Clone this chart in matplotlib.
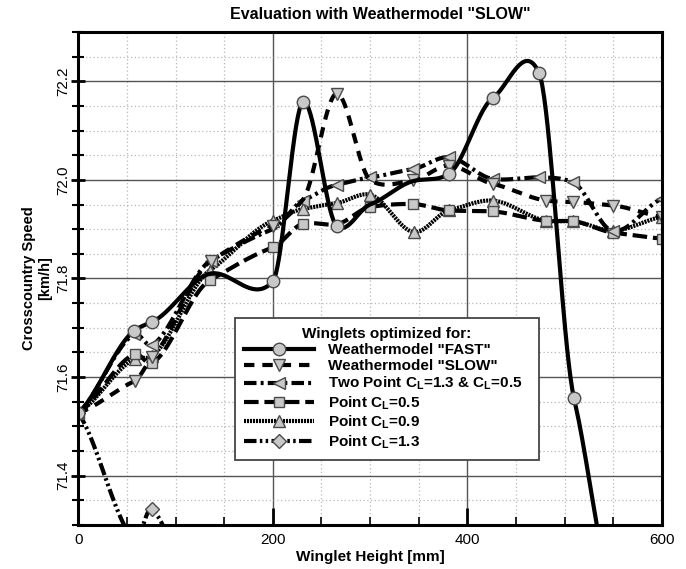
import numpy as np
import matplotlib
matplotlib.use("Agg")
import matplotlib.pyplot as plt
from matplotlib.ticker import MultipleLocator

plt.rcParams['font.family'] = ['Liberation Sans', 'DejaVu Sans']
plt.rcParams['mathtext.fontset'] = 'custom'
plt.rcParams['mathtext.rm'] = 'Liberation Sans'
plt.rcParams['mathtext.bf'] = 'Liberation Sans:bold'
plt.rcParams['mathtext.default'] = 'bf'

# data (winglet height [mm], crosscountry speed [km/h])
x_fast = [0, 57.5, 76, 136, 200, 231, 265.5, 300, 345, 381, 426, 473.6, 509.6, 550, 600]
y_fast = [71.527, 71.694, 71.712, 71.81, 71.794, 72.158, 71.907, 71.95, 71.998, 72.012,
          72.166, 72.217, 71.557, 71.14, 70.62]
hide_fast = [136, 300, 345, 550, 600]   # points with no visible symbol

x_slow = [0, 58, 76, 136, 200, 231, 265.5, 300, 344, 381, 426, 481, 509, 550, 600]
y_slow = [71.527, 71.592, 71.64, 71.835, 71.907, 71.96, 72.175, 72.0, 71.999, 72.029,
          71.992, 71.958, 71.955, 71.948, 71.925]
hide_slow = [231, 300]

x_two = [0, 57.5, 76, 136, 200, 231, 265.5, 300, 344, 381, 426, 474, 508.6, 550, 600]
y_two = [71.527, 71.687, 71.665, 71.836, 71.90, 71.958, 71.990, 72.005, 72.022, 72.046,
         72.002, 72.005, 71.995, 71.896, 71.962]
hide_two = [200]

x_cl05 = [0, 58, 76, 135, 200, 231, 265.5, 300, 344, 381, 426, 481, 509, 550, 600]
y_cl05 = [71.527, 71.647, 71.628, 71.796, 71.863, 71.911, 71.91, 71.945, 71.951, 71.938,
          71.936, 71.917, 71.916, 71.893, 71.881]
hide_cl05 = [265.5]

x_cl09 = [0, 58, 76, 135, 200, 231, 265.5, 300, 345, 381, 426, 481, 509, 550, 600]
y_cl09 = [71.527, 71.637, 71.643, 71.816, 71.917, 71.941, 71.953, 71.970, 71.894, 71.938,
          71.958, 71.917, 71.916, 71.897, 71.925]
hide_cl09 = []

x_cl13 = [0, 58, 76, 136]
y_cl13 = [71.527, 71.27, 71.332, 71.05]
hide_cl13 = []

labels = ['Weathermodel "FAST"', 'Weathermodel "SLOW"',
          'Two Point C$_L$=1.3 & C$_L$=0.5', 'Point C$_L$=0.5',
          'Point C$_L$=0.9', 'Point C$_L$=1.3']


def smooth(x, y, n=40, tension=0.6):
    # cubic hermite curve through the points (like the spline lines of the original)
    x = np.asarray(x, float)
    y = np.asarray(y, float)
    m = np.zeros_like(y)
    m[1:-1] = (y[2:] - y[:-2]) / (x[2:] - x[:-2])
    m[0] = (y[1] - y[0]) / (x[1] - x[0])
    m[-1] = (y[-1] - y[-2]) / (x[-1] - x[-2])
    m *= tension
    t = np.linspace(0, 1, n, endpoint=False)
    h00 = 2 * t**3 - 3 * t**2 + 1
    h10 = t**3 - 2 * t**2 + t
    h01 = -2 * t**3 + 3 * t**2
    h11 = t**3 - t**2
    xs, ys = [], []
    for i in range(len(x) - 1):
        h = x[i + 1] - x[i]
        xs.append(x[i] + t * h)
        ys.append(h00 * y[i] + h10 * h * m[i] + h01 * y[i + 1] + h11 * h * m[i + 1])
    xs.append([x[-1]])
    ys.append([y[-1]])
    return np.concatenate(xs), np.concatenate(ys), n


fig = plt.figure(figsize=(6.86, 5.69), dpi=100)
ax = fig.add_axes([0.114, 0.0773, 0.851, 0.8665])

mk = dict(markerfacecolor='#c8c8c8', markeredgecolor='#4a4a4a', markeredgewidth=1.0)
lw = 3.0

series = [
    (x_cl13, y_cl13, hide_cl13, labels[5], dict(ls=(0, (3, 0.8, 0.6, 0.8, 0.6, 0.8)), marker='D', ms=7)),
    (x_cl09, y_cl09, hide_cl09, labels[4], dict(ls=(0, (0.5, 0.22)), marker='^', ms=8, dash_capstyle='butt')),
    (x_cl05, y_cl05, hide_cl05, labels[3], dict(ls=(0, (3.5, 1.4)), marker='s', ms=7)),
    (x_two, y_two, hide_two, labels[2], dict(ls=(0, (3, 1, 0.7, 1)), marker='<', ms=8)),
    (x_slow, y_slow, hide_slow, labels[1], dict(ls=(0, (2.5, 1.9)), marker='v', ms=8)),
    (x_fast, y_fast, hide_fast, labels[0], dict(ls='-', marker='o', ms=9)),
]

handles = {}
for xv, yv, hide, lab, st in series:
    xs, ys, n = smooth(xv, yv)
    idx = [i * n for i, xx in enumerate(xv) if xx not in hide]
    line, = ax.plot(xs, ys, color='black', lw=lw, markevery=idx, label=lab, **mk, **st)
    handles[lab] = line

ax.set_xlim(0, 600)
ax.set_ylim(71.3, 72.3)

ax.xaxis.set_major_locator(MultipleLocator(200))
ax.xaxis.set_minor_locator(MultipleLocator(50))
ax.yaxis.set_major_locator(MultipleLocator(0.2))
ax.yaxis.set_minor_locator(MultipleLocator(0.05))
ax.grid(which='major', color='#555555', lw=1.0, ls='-')
ax.grid(which='minor', color='#b8b8b8', lw=0.9, ls=(0, (1, 2)))
ax.set_axisbelow(True)

ax.tick_params(axis='y', which='major', direction='inout', length=10, width=2, labelsize=11, pad=1)
ax.tick_params(axis='y', which='minor', direction='inout', length=8, width=1.5)
ax.tick_params(axis='x', which='major', direction='in', length=12, width=2, labelsize=11, pad=6)
ax.tick_params(axis='x', which='minor', direction='in', length=6, width=1.2)
for lbl in ax.get_yticklabels():
    lbl.set_rotation(90)
    lbl.set_va('center')

for sp in ax.spines.values():
    sp.set_linewidth(2.2)

ax.set_xlabel('Winglet Height [mm]', fontsize=11, fontweight='bold', labelpad=2)
ax.set_ylabel('Crosscountry Speed\n[km/h]', fontsize=10.5, fontweight='bold', labelpad=3)
ax.set_title('Evaluation with Weathermodel "SLOW"', fontsize=11.5, fontweight='bold', pad=9, x=0.518)

leg = ax.legend([handles[l] for l in labels], labels,
                title='Winglets optimized for:', loc='upper left',
                bbox_to_anchor=(0.2685, 0.132, 0.5205, 0.288), mode='expand',
                borderaxespad=0, fancybox=False, framealpha=1, edgecolor='#444444',
                prop=dict(weight='bold', size=11), title_fontproperties=dict(weight='bold', size=11),
                handlelength=4.6, handletextpad=0.9, labelspacing=0.13, borderpad=0.6,
                numpoints=1)
leg.get_frame().set_linewidth(1.3)
leg.set_zorder(10)

fig.savefig('out.png', dpi=100)
